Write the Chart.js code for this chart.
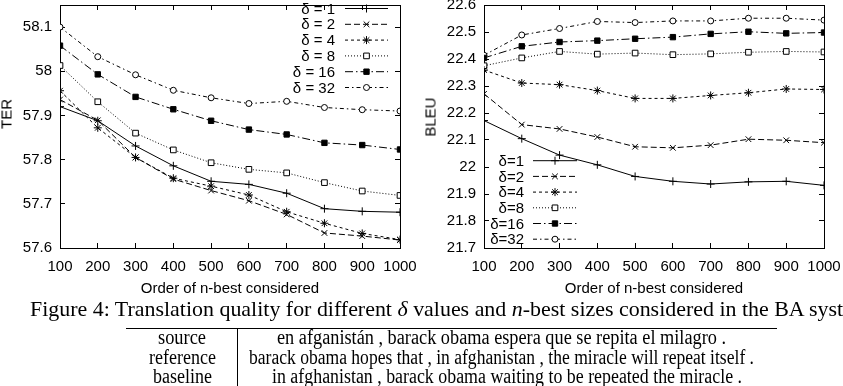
<!DOCTYPE html>
<html>
<head>
<meta charset="utf-8">
<script src="https://cdn.jsdelivr.net/npm/chart.js@4.4.1/dist/chart.umd.min.js"></script>
<style>
  body { margin: 0; background: #fff; }
  #wrap { position: relative; width: 843px; height: 386px; overflow: hidden; background: #fff; }
  .box { position: absolute; }
  .sans { font-family: "Liberation Sans", Arial, Helvetica, sans-serif; color: #000; }
  .serif { font-family: "Liberation Serif", "Times New Roman", Times, serif; color: #000; }
  .txt { position: absolute; white-space: nowrap; transform-origin: 0 50%; }
  .ytitle { position: absolute; font-size: 15px; line-height: 15px; white-space: nowrap; transform: translate(-50%, -50%) rotate(-90deg); }
  .rule { position: absolute; background: #000; }
</style>
</head>
<body>
<div id="wrap">
  <div class="box" style="left:0;top:0;width:420px;height:300px"><canvas id="terChart"></canvas></div>
  <div class="box" style="left:420px;top:0;width:423px;height:300px"><canvas id="bleuChart"></canvas></div>

  <div class="ytitle sans" style="left:6px;top:114px">TER</div>
  <div class="ytitle sans" style="left:430px;top:117px">BLEU</div>

  <div id="caption" class="txt serif" style="left:30px;top:297.5px;font-size:22px;line-height:22px">Figure 4: Translation quality for different <i>δ</i> values and <i>n</i>-best sizes considered in the BA sys<span id="capMark"></span>tem.</div>

  <div class="rule" style="left:126px;top:327.5px;width:651px;height:1px"></div>
  <div class="rule" style="left:237px;top:327.5px;width:1px;height:59px"></div>

  <div class="txt serif cell" data-cx="182" data-base="344" data-w="48">source</div>
  <div class="txt serif cell" data-cx="182" data-base="364" data-w="67">reference</div>
  <div class="txt serif cell" data-cx="182" data-base="383" data-w="59">baseline</div>
  <div class="txt serif cell" data-cx="501" data-base="344" data-w="449">en afganistán , barack obama espera que se repita el milagro .</div>
  <div class="txt serif cell" data-cx="501" data-base="364" data-w="505">barack obama hopes that , in afghanistan , the miracle will repeat itself .</div>
  <div class="txt serif cell" data-cx="507" data-base="383" data-w="470">in afghanistan , barack obama waiting to be repeated the miracle .</div>
</div>

<script>
// n-best sizes on the x axis
const nbest = [100, 200, 300, 400, 500, 600, 700, 800, 900, 1000];

// TER panel
const terLabels = ['δ = 1', 'δ = 2', 'δ = 4', 'δ = 8', 'δ = 16', 'δ = 32'];
const terD1  = [57.920, 57.888, 57.831, 57.786, 57.751, 57.744, 57.724, 57.689, 57.683, 57.681];
const terD2  = [57.936, 57.889, 57.805, 57.756, 57.730, 57.707, 57.676, 57.634, 57.627, 57.618];
const terD4  = [57.956, 57.872, 57.805, 57.758, 57.740, 57.720, 57.682, 57.656, 57.633, 57.619];
const terD8  = [58.013, 57.931, 57.860, 57.822, 57.793, 57.778, 57.770, 57.748, 57.729, 57.719];
const terD16 = [58.058, 57.993, 57.942, 57.914, 57.888, 57.868, 57.857, 57.838, 57.833, 57.823];
const terD32 = [58.100, 58.033, 57.992, 57.957, 57.940, 57.927, 57.932, 57.918, 57.913, 57.910];
const terTicks = [57.6, 57.7, 57.8, 57.9, 58.0, 58.1];

// BLEU panel
const bleuLabels = ['δ=1', 'δ=2', 'δ=4', 'δ=8', 'δ=16', 'δ=32'];
const bleuD1  = [22.172, 22.105, 22.044, 22.008, 21.965, 21.947, 21.937, 21.945, 21.947, 21.932];
const bleuD2  = [22.271, 22.157, 22.141, 22.111, 22.075, 22.071, 22.081, 22.103, 22.099, 22.090];
const bleuD4  = [22.359, 22.311, 22.305, 22.283, 22.254, 22.254, 22.265, 22.275, 22.289, 22.287];
const bleuD8  = [22.375, 22.404, 22.428, 22.418, 22.422, 22.416, 22.419, 22.425, 22.428, 22.426];
const bleuD16 = [22.404, 22.447, 22.463, 22.468, 22.475, 22.481, 22.493, 22.501, 22.495, 22.498];
const bleuD32 = [22.414, 22.489, 22.513, 22.539, 22.535, 22.541, 22.541, 22.551, 22.551, 22.544];
const bleuTicks = [21.7, 21.8, 21.9, 22.0, 22.1, 22.2, 22.3, 22.4, 22.5, 22.6];

const SANS = '"Liberation Sans", Arial, Helvetica, sans-serif';
Chart.defaults.font.family = SANS;
Chart.defaults.font.size = 15;
Chart.defaults.color = '#000';

// gnuplot-like line styles, one per delta
const lineStyles = [
  { dash: [],             point: 'cross',    r: 4,   fill: '#000' },
  { dash: [6, 3],         point: 'crossRot', r: 4,   fill: '#000' },
  { dash: [3, 3],         point: 'star',     r: 4,   fill: '#000' },
  { dash: [1, 2],         point: 'rect',     r: 4,   fill: '#fff' },
  { dash: [8, 3, 1.5, 3], point: 'rect',     r: 3.8, fill: '#000' },
  { dash: [4, 3, 1.5, 3], point: 'circle',   r: 3,   fill: '#fff' }
];

function makeDatasets(labels, series) {
  return series.map(function (vals, i) {
    const st = lineStyles[i];
    return {
      label: labels[i],
      data: nbest.map(function (x, j) { return { x: x, y: vals[j] }; }),
      borderColor: '#000',
      borderWidth: 1,
      borderDash: st.dash,
      tension: 0,
      pointStyle: st.point,
      pointRadius: st.r,
      pointBorderWidth: 1,
      pointBorderColor: '#000',
      pointBackgroundColor: st.fill
    };
  });
}

// legend drawn gnuplot style: text on the left, line sample on the right
const keyPlugin = {
  id: 'gnuKey',
  afterDatasetsDraw(chart, args, opts) {
    const ctx = chart.ctx;
    ctx.save();
    ctx.font = '15px ' + SANS;
    ctx.textAlign = 'right';
    ctx.textBaseline = 'middle';
    chart.data.datasets.forEach(function (ds, i) {
      const y = opts.y0 + i * opts.dy;
      ctx.fillStyle = '#000';
      ctx.fillText(ds.label, opts.textRight, y + 1);
      ctx.strokeStyle = '#000';
      ctx.lineWidth = 1;
      ctx.setLineDash(ds.borderDash);
      ctx.beginPath();
      ctx.moveTo(opts.x1, y);
      ctx.lineTo(opts.x2, y);
      ctx.stroke();
      ctx.setLineDash([]);
      ctx.fillStyle = ds.pointBackgroundColor;
      Chart.helpers.drawPoint(ctx, { pointStyle: ds.pointStyle, radius: ds.pointRadius, borderWidth: 1, rotation: 0 }, (opts.x1 + opts.x2) / 2, y);
    });
    ctx.restore();
  }
};

function fmt(v) { return String(Math.round(v * 100) / 100); }

function noPad(s) {
  s.paddingTop = 0; s.paddingBottom = 0; s.paddingLeft = 0; s.paddingRight = 0;
}

function makeChart(id, labels, series, yMin, yMax, yTicks, yWidth, padRight, key) {
  const tickGrid = { display: true, drawOnChartArea: false, drawTicks: true, tickLength: -5, tickColor: '#000' };
  const border = { display: true, color: '#000', width: 1 };
  return new Chart(document.getElementById(id), {
    type: 'line',
    data: { datasets: makeDatasets(labels, series) },
    options: {
      responsive: true,
      maintainAspectRatio: false,
      animation: false,
      layout: { padding: { left: 0, top: 1, right: padRight, bottom: 0 } },
      plugins: { legend: { display: false }, tooltip: { enabled: false }, gnuKey: key },
      scales: {
        x: {
          type: 'linear', position: 'bottom', min: 100, max: 1000,
          afterBuildTicks: function (s) { s.ticks = nbest.map(function (v) { return { value: v }; }); },
          afterFit: function (s) { s.height = 52; noPad(s); },
          grid: tickGrid, border: border,
          ticks: { autoSkip: false, maxRotation: 0, padding: 15, callback: fmt },
          title: { display: true, text: 'Order of n-best considered', font: { size: 15 }, padding: { top: 0, bottom: 2 } }
        },
        x2: {
          type: 'linear', position: 'top', min: 100, max: 1000,
          afterBuildTicks: function (s) { s.ticks = nbest.map(function (v) { return { value: v }; }); },
          afterFit: function (s) { s.height = 0; noPad(s); },
          grid: tickGrid, border: border, ticks: { display: false }
        },
        y: {
          type: 'linear', position: 'left', min: yMin, max: yMax,
          afterBuildTicks: function (s) { s.ticks = yTicks.map(function (v) { return { value: v }; }); },
          afterFit: function (s) { s.width = yWidth; noPad(s); },
          grid: tickGrid, border: border,
          ticks: { padding: 13, callback: fmt }
        },
        y2: {
          type: 'linear', position: 'right', min: yMin, max: yMax,
          afterBuildTicks: function (s) { s.ticks = yTicks.map(function (v) { return { value: v }; }); },
          afterFit: function (s) { s.width = 0; noPad(s); },
          grid: tickGrid, border: border, ticks: { display: false }
        }
      }
    },
    plugins: [keyPlugin]
  });
}

makeChart('terChart', terLabels, [terD1, terD2, terD4, terD8, terD16, terD32],
  57.6, 58.15, terTicks, 60, 20,
  { y0: 8.5, dy: 15.8, textRight: 335, x1: 345, x2: 388 });

makeChart('bleuChart', bleuLabels, [bleuD1, bleuD2, bleuD4, bleuD8, bleuD16, bleuD32],
  21.7, 22.6, bleuTicks, 64, 19,
  { y0: 160.7, dy: 15.7, textRight: 104, x1: 113, x2: 157 });

// squeeze the serif texts to the widths seen in the figure
const cap = document.getElementById('caption');
const capW = document.getElementById('capMark').getBoundingClientRect().left - cap.getBoundingClientRect().left;
cap.style.transform = 'scaleX(' + (807 / capW) + ')';

document.querySelectorAll('.cell').forEach(function (el) {
  el.style.fontSize = '20px';
  el.style.lineHeight = '20px';
  const w0 = el.getBoundingClientRect().width;
  const w = +el.dataset.w;
  el.style.left = (+el.dataset.cx - w / 2) + 'px';
  el.style.top = (+el.dataset.base - 16.75) + 'px';
  el.style.transform = 'scaleX(' + (w / w0) + ')';
});
</script>
</body>
</html>
